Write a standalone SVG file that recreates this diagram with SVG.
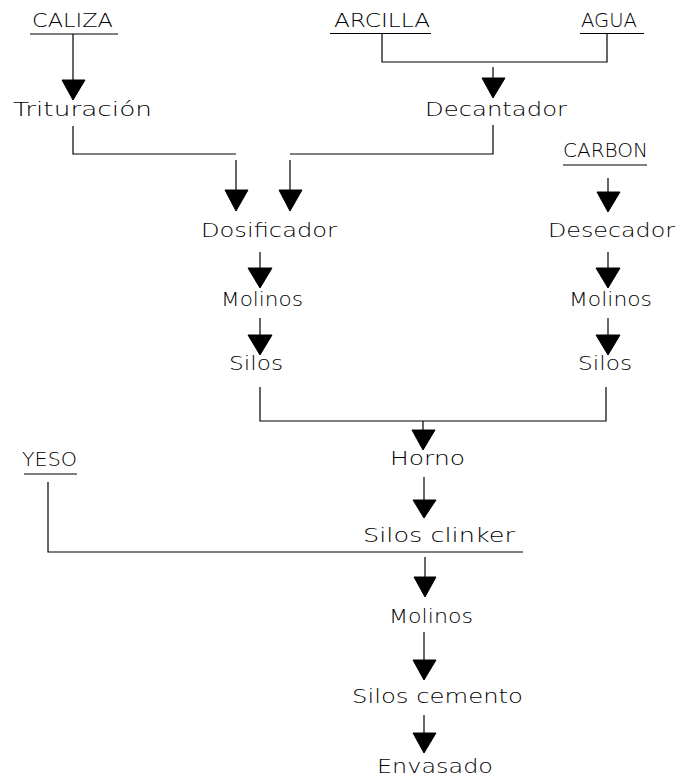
<svg xmlns="http://www.w3.org/2000/svg" width="681" height="781" viewBox="0 0 681 781">
<style>
text{font-family:"DejaVu Sans","Liberation Sans",sans-serif;font-weight:200;font-size:19px;fill:#000}
.c line,.c polyline{stroke:#000;stroke-width:1.2;fill:none}
.c polygon{fill:#000;stroke:#000;stroke-width:1}
.u{stroke:#000;stroke-width:1.2}
</style>
<rect width="681" height="781" fill="#fff"/>
<g id="caliza"><text x="32" y="27" textLength="81" lengthAdjust="spacingAndGlyphs">CALIZA</text><line class="u" x1="30" y1="34" x2="118" y2="34"/></g>
<g id="arcilla"><text x="334" y="27" textLength="96" lengthAdjust="spacingAndGlyphs">ARCILLA</text><line class="u" x1="330" y1="33.5" x2="431" y2="33.5"/></g>
<g id="agua"><text x="581" y="27" textLength="56" lengthAdjust="spacingAndGlyphs">AGUA</text><line class="u" x1="580" y1="33.5" x2="644" y2="33.5"/></g>
<g id="trituracion"><text x="13" y="116" textLength="139" lengthAdjust="spacingAndGlyphs">Trituración</text></g>
<g id="decantador"><text x="425" y="116" textLength="142" lengthAdjust="spacingAndGlyphs">Decantador</text></g>
<g id="carbon"><text x="563" y="157" textLength="85" lengthAdjust="spacingAndGlyphs">CARBON</text><line class="u" x1="563" y1="165" x2="647" y2="165"/></g>
<g id="dosificador"><text x="201" y="237" textLength="136" lengthAdjust="spacingAndGlyphs">Dosificador</text></g>
<g id="desecador"><text x="548" y="237" textLength="127" lengthAdjust="spacingAndGlyphs">Desecador</text></g>
<g id="molinos1"><text x="221" y="306" textLength="82" lengthAdjust="spacingAndGlyphs">Molinos</text></g>
<g id="molinos2"><text x="569" y="306" textLength="83" lengthAdjust="spacingAndGlyphs">Molinos</text></g>
<g id="silos1"><text x="229" y="370" textLength="54" lengthAdjust="spacingAndGlyphs">Silos</text></g>
<g id="silos2"><text x="578" y="370" textLength="54" lengthAdjust="spacingAndGlyphs">Silos</text></g>
<g id="horno"><text x="390" y="465" textLength="75" lengthAdjust="spacingAndGlyphs">Horno</text></g>
<g id="yeso"><text x="22" y="466" textLength="55" lengthAdjust="spacingAndGlyphs">YESO</text><line class="u" x1="24" y1="474" x2="77" y2="474"/></g>
<g id="silosclinker"><text x="363" y="542" textLength="152" lengthAdjust="spacingAndGlyphs">Silos clinker</text></g>
<g id="molinos3"><text x="389" y="623" textLength="84" lengthAdjust="spacingAndGlyphs">Molinos</text></g>
<g id="siloscemento"><text x="352" y="703" textLength="171" lengthAdjust="spacingAndGlyphs">Silos cemento</text></g>
<g id="envasado"><text x="377" y="773" textLength="116" lengthAdjust="spacingAndGlyphs">Envasado</text></g>
<g id="connectors" class="c">
<line x1="73" y1="34" x2="73" y2="80"/><polygon points="62,80 85,80 73,100"/>
<polyline points="382,33 382,62 607,62 607,33"/>
<line x1="493" y1="67" x2="493" y2="78"/><polygon points="482,78 505,78 493,98"/>
<polyline points="73,126 73,154 236,154"/>
<line x1="236" y1="160" x2="236" y2="190"/><polygon points="225,190 248,190 236,211"/>
<polyline points="493,125 493,154 290,154"/>
<line x1="290" y1="160" x2="290" y2="190"/><polygon points="279,190 302,190 290,211"/>
<line x1="608" y1="178" x2="608" y2="192"/><polygon points="597,192 620,192 608,212"/>
<line x1="260" y1="252" x2="260" y2="268"/><polygon points="248,268 272,268 260,288"/>
<line x1="260" y1="318" x2="260" y2="335"/><polygon points="248,335 272,335 260,355"/>
<line x1="608" y1="252" x2="608" y2="268"/><polygon points="596,268 620,268 608,288"/>
<line x1="608" y1="318" x2="608" y2="335"/><polygon points="596,335 620,335 608,355"/>
<polyline points="260,387 260,421 606,421 606,387"/>
<line x1="423" y1="421" x2="423" y2="430"/><polygon points="412,430 435,430 423,450"/>
<line x1="424" y1="477" x2="424" y2="500"/><polygon points="413,500 436,500 424,518"/>
<polyline points="48,482 48,552 523,552"/>
<line x1="425" y1="557" x2="425" y2="577"/><polygon points="414,577 436,577 425,597"/>
<line x1="424" y1="632" x2="424" y2="660"/><polygon points="413,660 436,660 424,680"/>
<line x1="424" y1="715" x2="424" y2="733"/><polygon points="413,733 436,733 424,753"/>
</g>
</svg>
